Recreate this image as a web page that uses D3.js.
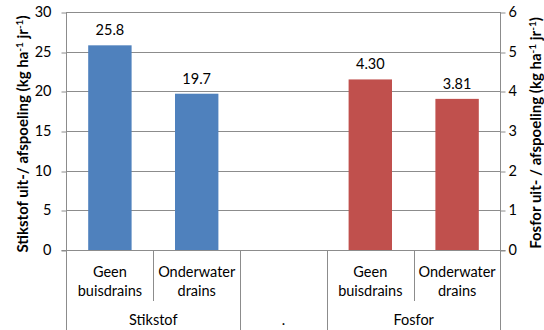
<!DOCTYPE html>
<html>
<head>
<meta charset="utf-8">
<script src="https://cdn.jsdelivr.net/npm/d3@7"></script>
<style>
  html, body { margin: 0; padding: 0; background: #fff; }
  svg { display: block; font-family: Lato, "Open Sans", sans-serif; }
</style>
</head>
<body>
<svg id="chart" width="544" height="330"></svg>
<script>
// Leaching / runoff per nutrient and drainage type
const groups = ["Stikstof", ".", "Fosfor"];
const groupSpans = [2, 1, 2];
const categories = ["Geen buisdrains", "Onderwater drains", "", "Geen buisdrains", "Onderwater drains"];
const nitrogenValues = [25.8, 19.7];     // kg/ha/jr, left axis
const phosphorusValues = [4.30, 3.81];   // kg/ha/jr, right axis
const leftTicks = [0, 5, 10, 15, 20, 25, 30];
const rightTicks = [0, 1, 2, 3, 4, 5, 6];

const svg = d3.select("#chart");
const m = { left: 66.5, right: 500.5, top: 12, bottom: 250 };
const gridColor = "#8c8c8c";
const fontSize = 14.5;

const x = d3.scaleBand()
  .domain(d3.range(categories.length))
  .range([m.left, m.right])
  .paddingInner(0)
  .paddingOuter(0);
const yL = d3.scaleLinear().domain([0, 30]).range([m.bottom, m.top]);
const yR = d3.scaleLinear().domain([0, 6]).range([m.bottom, m.top]);

// horizontal gridlines
svg.append("g").selectAll("line").data(leftTicks.slice(1)).join("line")
  .attr("x1", m.left).attr("x2", m.right)
  .attr("y1", d => Math.round(yL(d)) + 0.5).attr("y2", d => Math.round(yL(d)) + 0.5)
  .attr("stroke", gridColor).attr("stroke-width", 1);

// left axis
const leftAxis = svg.append("g")
  .attr("transform", `translate(${m.left},0)`)
  .call(d3.axisLeft(yL).tickValues(leftTicks).tickFormat(d3.format("d"))
    .tickSize(5).tickPadding(10).tickSizeOuter(0));
leftAxis.select(".domain").remove();
leftAxis.selectAll(".tick line").attr("stroke", gridColor)
  .attr("transform", d => `translate(0,${Math.round(yL(d)) + 0.5 - yL(d)})`);
leftAxis.selectAll(".tick text").attr("font-size", fontSize).attr("font-family", "Lato, sans-serif").attr("fill", "#000");

// right axis
const rightAxis = svg.append("g")
  .attr("transform", `translate(${m.right},0)`)
  .call(d3.axisRight(yR).tickValues(rightTicks).tickFormat(d3.format("d"))
    .tickSize(5).tickPadding(3).tickSizeOuter(0));
rightAxis.select(".domain").remove();
rightAxis.selectAll(".tick line").attr("stroke", gridColor)
  .attr("transform", d => `translate(0,${Math.round(yR(d)) + 0.5 - yR(d)})`);
rightAxis.selectAll(".tick text").attr("font-size", fontSize).attr("font-family", "Lato, sans-serif").attr("fill", "#000");

// vertical axis lines extending through category area
svg.append("line").attr("x1", m.left).attr("x2", m.left).attr("y1", m.top).attr("y2", 330)
  .attr("stroke", gridColor);
svg.append("line").attr("x1", m.right).attr("x2", m.right).attr("y1", m.top).attr("y2", 330)
  .attr("stroke", gridColor);
// baseline
svg.append("line").attr("x1", m.left - 5).attr("x2", m.right + 5)
  .attr("y1", m.bottom + 0.5).attr("y2", m.bottom + 0.5).attr("stroke", gridColor);

// bars
const barW = x.bandwidth() / 2;
const bars = [
  ...nitrogenValues.map((v, i) => ({ slot: i, value: v, y: yL, color: "#4f81bd", label: d3.format(".1f")(v) })),
  ...phosphorusValues.map((v, i) => ({ slot: 3 + i, value: v, y: yR, color: "#c0504d", label: d3.format(".2f")(v) }))
];
svg.append("g").selectAll("rect").data(bars).join("rect")
  .attr("x", d => x(d.slot) + (x.bandwidth() - barW) / 2)
  .attr("width", barW)
  .attr("y", d => d.y(d.value))
  .attr("height", d => m.bottom - d.y(d.value))
  .attr("fill", d => d.color);

svg.append("g").selectAll("text").data(bars).join("text")
  .attr("x", d => x(d.slot) + x.bandwidth() / 2)
  .attr("y", d => d.y(d.value) - 10)
  .attr("text-anchor", "middle")
  .attr("font-size", fontSize)
  .text(d => d.label);

// category separators (inner ones shorter, group boundaries full height)
let acc = 0;
const groupEdges = [];
groupSpans.forEach(s => { acc += s; groupEdges.push(acc); });
d3.range(1, categories.length).forEach(i => {
  const isGroupEdge = groupEdges.includes(i);
  const xx = Math.round(x(i)) + 0.5;
  svg.append("line").attr("x1", xx).attr("x2", xx)
    .attr("y1", m.bottom).attr("y2", isGroupEdge ? 330 : 301)
    .attr("stroke", gridColor);
});

// category labels (two lines)
categories.forEach((c, i) => {
  if (!c) return;
  const words = c.split(" ");
  const t = svg.append("text")
    .attr("x", x(i) + x.bandwidth() / 2)
    .attr("text-anchor", "middle")
    .attr("font-size", fontSize);
  words.forEach((w, k) => {
    t.append("tspan").attr("x", x(i) + x.bandwidth() / 2).attr("y", 277 + k * 18.5).text(w);
  });
});

// group labels
acc = 0;
groups.forEach((g, gi) => {
  const start = acc, end = acc + groupSpans[gi];
  acc = end;
  const cx = (x(start) + x(end - 1) + x.bandwidth()) / 2;
  svg.append("text").attr("x", cx).attr("y", 325)
    .attr("text-anchor", "middle").attr("font-size", fontSize).text(g);
});

// axis titles with superscripts
function axisTitle(cx, cy, label) {
  const t = svg.append("text")
    .attr("transform", `translate(${cx},${cy}) rotate(-90)`)
    .attr("text-anchor", "middle")
    .attr("font-size", 15)
    .attr("font-weight", "bold");
  t.append("tspan").text(label + " (kg ha");
  t.append("tspan").attr("font-size", 10).attr("dy", -5).text("-1");
  t.append("tspan").attr("dy", 5).text(" jr");
  t.append("tspan").attr("font-size", 10).attr("dy", -5).text("-1");
  t.append("tspan").attr("dy", 5).text(")");
}
axisTitle(28, 134, "Stikstof uit-/ afspoeling");
axisTitle(541, 133, "Fosfor uit- / afspoeling");
</script>
</body>
</html>
